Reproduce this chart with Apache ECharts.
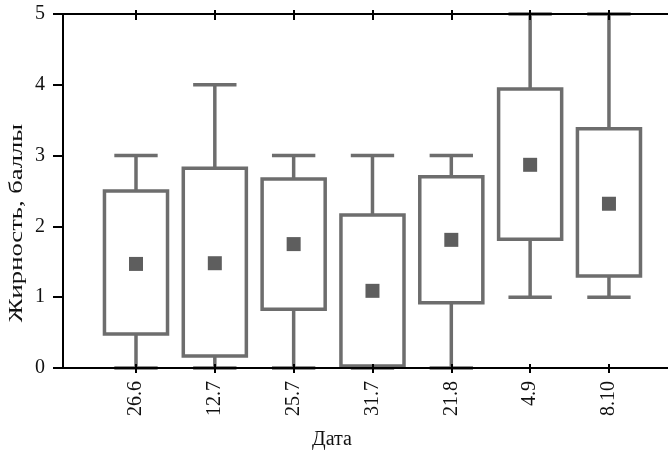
<!DOCTYPE html>
<html lang="ru">
<head>
    <meta charset="UTF-8">
    <title>Жирность по датам</title>
    <script src="https://cdn.jsdelivr.net/npm/echarts@6.0.0/dist/echarts.min.js"></script>
    <style>
        html, body { margin: 0; padding: 0; background: #fff; }
        #main { width: 668px; height: 454px; }
    </style>
</head>
<body>
	<div id="main"></div>
	<script>
	    // данные
	    var dates = ['26.6', '12.7', '25.7', '31.7', '21.8', '4.9', '8.10'];
	    var whiskerLow = [0, 0, 0, 0, 0, 1, 1];
	    var q1 = [0.48, 0.17, 0.83, 0.03, 0.92, 1.82, 1.30];
	    var q3 = [2.50, 2.82, 2.67, 2.16, 2.70, 3.94, 3.38];
	    var whiskerHigh = [3, 4, 3, 3, 3, 5, 5];
	    var means = [1.47, 1.48, 1.75, 1.09, 1.81, 2.87, 2.32];
	    var yTicks = [0, 1, 2, 3, 4, 5];

	    var positions = dates.map(function (d, i) { return i + 1; });
	    var boxData = dates.map(function (d, i) {
	        return [i + 1, whiskerLow[i], q1[i], q3[i], whiskerHigh[i], means[i]];
	    });

	    var font = '"Liberation Serif", "Times New Roman", serif';
	    var grey = '#6d6d6d';

	    function renderBox(params, api) {
	        var x = api.value(0);
	        var pLow = api.coord([x, api.value(1)]);
	        var pQ1 = api.coord([x, api.value(2)]);
	        var pQ3 = api.coord([x, api.value(3)]);
	        var pHigh = api.coord([x, api.value(4)]);
	        var pMean = api.coord([x, api.value(5)]);
	        var boxW = api.size([0.8, 0])[0];
	        var capW = api.size([0.55, 0])[0];
	        var line = { stroke: grey, lineWidth: 3.5, fill: null };
	        return {
	            type: 'group',
	            children: [
	                { type: 'line', shape: { x1: pLow[0], y1: pLow[1], x2: pQ1[0], y2: pQ1[1] }, style: line },
	                { type: 'line', shape: { x1: pQ3[0], y1: pQ3[1], x2: pHigh[0], y2: pHigh[1] }, style: line },
	                { type: 'line', shape: { x1: pLow[0] - capW / 2, y1: pLow[1], x2: pLow[0] + capW / 2, y2: pLow[1] }, style: line },
	                { type: 'line', shape: { x1: pHigh[0] - capW / 2, y1: pHigh[1], x2: pHigh[0] + capW / 2, y2: pHigh[1] }, style: line },
	                { type: 'rect', shape: { x: pQ3[0] - boxW / 2, y: pQ3[1], width: boxW, height: pQ1[1] - pQ3[1] },
	                  style: { stroke: grey, lineWidth: 3.5, fill: '#fff' } },
	                { type: 'rect', shape: { x: pMean[0] - 7, y: pMean[1] - 7, width: 14, height: 14 },
	                  style: { fill: '#5e5e5e' } }
	            ]
	        };
	    }

	    var axisBase = {
	        type: 'value',
	        min: 0.074,
	        max: 7.749,
	        z: 3,
	        splitLine: { show: false },
	        axisLine: { show: false, lineStyle: { color: '#000', width: 2 } },
	        axisTick: { show: true, customValues: positions, lineStyle: { color: '#000', width: 2 } },
	        axisLabel: { show: false }
	    };
	    function xAxisOf(extra) {
	        return echarts.util.merge(echarts.util.clone(axisBase), extra, true);
	    }

	    var myChart = echarts.init(document.getElementById('main'));
	    var option = {
	        animation: false,
	        backgroundColor: '#fff',
	        grid: { left: 63, right: 0, top: 14, bottom: 86 },
	        xAxis: [
	            xAxisOf({
	                position: 'bottom',
	                axisLine: { show: true },
	                axisTick: { inside: false, length: 5 },
	                axisLabel: {
	                    show: true,
	                    customValues: positions,
	                    rotate: 90,
	                    margin: 13,
	                    fontFamily: font,
	                    fontSize: 20,
	                    color: '#111',
	                    formatter: function (v) { return dates[Math.round(v) - 1]; }
	                }
	            }),
	            xAxisOf({ position: 'bottom', axisTick: { inside: true, length: 4 } }),
	            xAxisOf({ position: 'top', axisLine: { show: true }, axisTick: { inside: true, length: 6 } }),
	            xAxisOf({ position: 'top', axisTick: { inside: false, length: 4 } })
	        ],
	        yAxis: {
	            type: 'value',
	            min: 0,
	            max: 5,
	            interval: 1,
	            z: 3,
	            splitLine: { show: false },
	            axisLine: { show: true, lineStyle: { color: '#000', width: 2 } },
	            axisTick: { show: true, length: 10, lineStyle: { color: '#000', width: 2 } },
	            axisLabel: {
	                margin: 18,
	                fontFamily: font,
	                fontSize: 20,
	                color: '#111',
	                formatter: function (v) { return yTicks.indexOf(v) >= 0 ? String(v) : ''; }
	            }
	        },
	        graphic: [
	            {
	                type: 'text',
	                x: 17,
	                y: 223,
	                rotation: Math.PI / 2,
	                scaleX: 1.4,
	                style: {
	                    text: 'Жирность, баллы',
	                    font: '19px ' + font,
	                    fill: '#111',
	                    textAlign: 'center',
	                    align: 'center',
	                    verticalAlign: 'middle',
	                    textVerticalAlign: 'middle'
	                }
	            },
	            {
	                type: 'text',
	                x: 332,
	                y: 440,
	                style: {
	                    text: 'Дата',
	                    font: '20px ' + font,
	                    fill: '#111',
	                    textAlign: 'center',
	                    align: 'center',
	                    verticalAlign: 'middle',
	                    textVerticalAlign: 'middle'
	                }
	            }
	        ],
	        series: [{
	            type: 'custom',
	            renderItem: renderBox,
	            encode: { x: 0, y: [1, 2, 3, 4, 5] },
	            data: boxData,
	            clip: false
	        }]
	    };
	    myChart.setOption(option);
	</script>
</body>
</html>
